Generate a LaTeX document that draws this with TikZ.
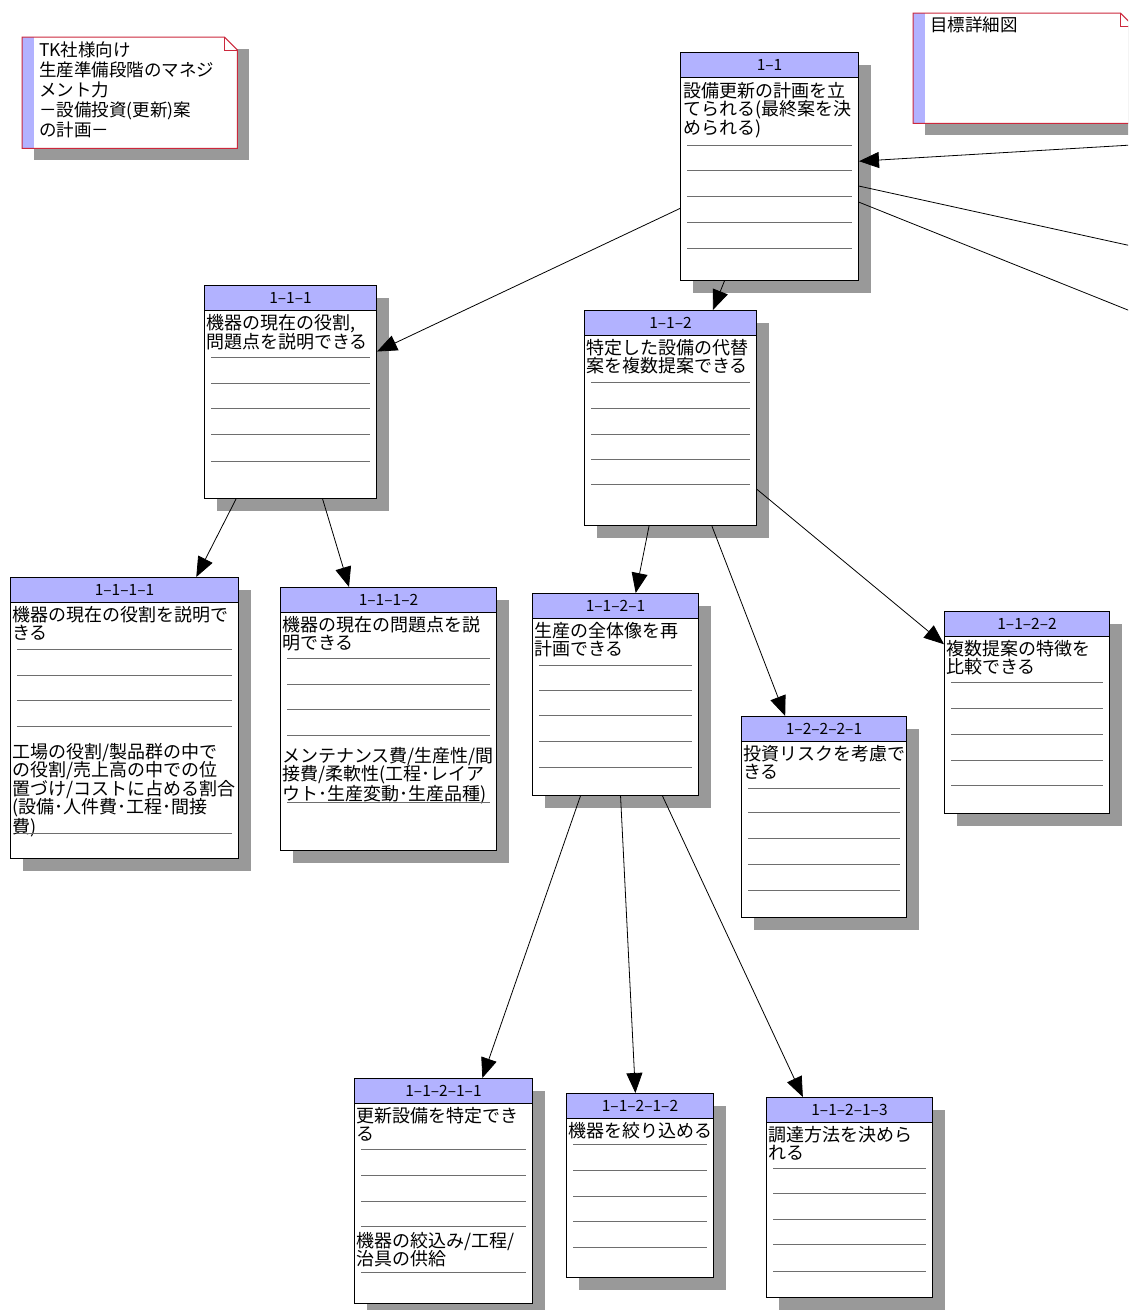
\documentclass[tikz,border=0pt]{standalone}
\usepackage{fontspec}
\setmainfont{Noto Sans CJK JP}
\usepackage{tikz}
\usetikzlibrary{arrows.meta,positioning,shadows,calc}
\definecolor{headblue}{RGB}{178,178,255}
\definecolor{notered}{RGB}{204,40,60}
\definecolor{rulegray}{RGB}{110,110,110}

\begin{document}
\begin{tikzpicture}[x=1pt, y=-1pt,
    card/.style={rectangle, draw, line width=1pt, fill=white, anchor=north west, inner sep=0pt,
      drop shadow={shadow xshift=12pt, shadow yshift=-12pt, fill=black!40, opacity=1}},
    head/.style={rectangle, draw, line width=1pt, fill=headblue, anchor=north west, minimum height=25pt, inner sep=0pt, font=\fontsize{15.5}{17}\selectfont},
    body/.style={anchor=north west, inner sep=0pt, align=left, font=\fontsize{18}{18.5}\selectfont},
    memo/.style={rectangle, fill=white, anchor=north west, inner sep=0pt,
      drop shadow={shadow xshift=12pt, shadow yshift=-12pt, fill=black!40, opacity=1}},
    memoline/.style={notered, line width=1pt},
    rule/.style={rulegray, line width=0.9pt},
    arrow/.style={-{Triangle[length=20pt, width=16pt]}, line width=0.8pt}]

    \path[use as bounding box, clip] (0,0) rectangle (1128,1310);

    % notes
    \node[memo, minimum width=215pt, minimum height=111pt] (memo1) at (22,37) {};
    \fill[headblue] (memo1.north west) rectangle ([xshift=12pt]memo1.south west);
    \draw[memoline] (memo1.north west) -- ([xshift=-13pt]memo1.north east) -- ([yshift=-13pt]memo1.north east) -- (memo1.south east) -- (memo1.south west) -- cycle;
    \draw[memoline] ([xshift=-13pt]memo1.north east) -- ([xshift=-13pt, yshift=-13pt]memo1.north east) -- ([yshift=-13pt]memo1.north east);
    \node[body, font=\fontsize{17.5}{20}\selectfont] (memo1t) at ([xshift=17pt, yshift=-5pt]memo1.north west) {TK社様向け\\生産準備段階のマネジ\\メント力\\－設備投資(更新)案\\の計画－};

    \node[memo, minimum width=220pt, minimum height=110pt] (memo2) at (913,13) {};
    \fill[headblue] (memo2.north west) rectangle ([xshift=12pt]memo2.south west);
    \draw[memoline] (memo2.north west) -- ([xshift=-13pt]memo2.north east) -- ([yshift=-13pt]memo2.north east) -- (memo2.south east) -- (memo2.south west) -- cycle;
    \draw[memoline] ([xshift=-13pt]memo2.north east) -- ([xshift=-13pt, yshift=-13pt]memo2.north east) -- ([yshift=-13pt]memo2.north east);
    \node[body, font=\fontsize{17.5}{20}\selectfont] (memo2t) at ([xshift=17pt, yshift=-4pt]memo2.north west) {目標詳細図};

    % 1-1
    \node[card, minimum width=178pt, minimum height=228pt] (c11) at (680,52) {};
    \node[head, minimum width=178pt] (c11h) at (c11.north west) {1--1};
    \node[body] (c11t) at ([xshift=3pt, yshift=-30pt]c11.north west) {設備更新の計画を立\\てられる(最終案を決\\められる)};
    \foreach \y in {93,118,144,170,196}
      \draw[rule] ([xshift=7pt, yshift=-\y pt]c11.north west) -- ([xshift=-7pt, yshift=-\y pt]c11.north east);

    % 1-1-1
    \node[card, minimum width=172pt, minimum height=213pt] (c111) at (204,285) {};
    \node[head, minimum width=172pt] (c111h) at (c111.north west) {1--1--1};
    \node[body] (c111t) at ([xshift=2pt, yshift=-29pt]c111.north west) {機器の現在の役割,\\問題点を説明できる};
    \foreach \y in {72,98,123,149,176}
      \draw[rule] ([xshift=7pt, yshift=-\y pt]c111.north west) -- ([xshift=-7pt, yshift=-\y pt]c111.north east);

    % 1-1-2
    \node[card, minimum width=172pt, minimum height=215pt] (c112) at (584,310) {};
    \node[head, minimum width=172pt] (c112h) at (c112.north west) {1--1--2};
    \node[body] (c112t) at ([xshift=2pt, yshift=-29pt]c112.north west) {特定した設備の代替\\案を複数提案できる};
    \foreach \y in {72,98,124,149,174}
      \draw[rule] ([xshift=7pt, yshift=-\y pt]c112.north west) -- ([xshift=-7pt, yshift=-\y pt]c112.north east);

    % 1-1-1-1
    \node[card, minimum width=228pt, minimum height=281pt] (c1111) at (10,577) {};
    \node[head, minimum width=228pt] (c1111h) at (c1111.north west) {1--1--1--1};
    \node[body] (c1111t) at ([xshift=2pt, yshift=-29pt]c1111.north west) {機器の現在の役割を説明で\\きる};
    \node[body] (c1111n) at ([xshift=2pt, yshift=-166pt]c1111.north west) {工場の役割/製品群の中で\\の役割/売上高の中での位\\置づけ/コストに占める割合\\(設備･人件費･工程･間接\\費)};
    \foreach \y in {72,98,123,149,256}
      \draw[rule] ([xshift=7pt, yshift=-\y pt]c1111.north west) -- ([xshift=-7pt, yshift=-\y pt]c1111.north east);

    % 1-1-1-2
    \node[card, minimum width=216pt, minimum height=263pt] (c1112) at (280,587) {};
    \node[head, minimum width=216pt] (c1112h) at (c1112.north west) {1--1--1--2};
    \node[body] (c1112t) at ([xshift=2pt, yshift=-29pt]c1112.north west) {機器の現在の問題点を説\\明できる};
    \node[body] (c1112n) at ([xshift=2pt, yshift=-160pt]c1112.north west) {メンテナンス費/生産性/間\\接費/柔軟性(工程･レイア\\ウト･生産変動･生産品種)};
    \foreach \y in {71,97,122,148,215}
      \draw[rule] ([xshift=7pt, yshift=-\y pt]c1112.north west) -- ([xshift=-7pt, yshift=-\y pt]c1112.north east);

    % 1-1-2-1
    \node[card, minimum width=166pt, minimum height=202pt] (c1121) at (532,593) {};
    \node[head, minimum width=166pt] (c1121h) at (c1121.north west) {1--1--2--1};
    \node[body] (c1121t) at ([xshift=2pt, yshift=-29pt]c1121.north west) {生産の全体像を再\\計画できる};
    \foreach \y in {72,97,122,148,174}
      \draw[rule] ([xshift=7pt, yshift=-\y pt]c1121.north west) -- ([xshift=-7pt, yshift=-\y pt]c1121.north east);

    % 1-2-2-2-1
    \node[card, minimum width=165pt, minimum height=201pt] (c12221) at (741,716) {};
    \node[head, minimum width=165pt] (c12221h) at (c12221.north west) {1--2--2--2--1};
    \node[body] (c12221t) at ([xshift=2pt, yshift=-29pt]c12221.north west) {投資リスクを考慮で\\きる};
    \foreach \y in {72,96,122,148,174}
      \draw[rule] ([xshift=7pt, yshift=-\y pt]c12221.north west) -- ([xshift=-7pt, yshift=-\y pt]c12221.north east);

    % 1-1-2-2
    \node[card, minimum width=165pt, minimum height=202pt] (c1122) at (944,611) {};
    \node[head, minimum width=165pt] (c1122h) at (c1122.north west) {1--1--2--2};
    \node[body] (c1122t) at ([xshift=2pt, yshift=-29pt]c1122.north west) {複数提案の特徴を\\比較できる};
    \foreach \y in {71,97,123,149,174}
      \draw[rule] ([xshift=7pt, yshift=-\y pt]c1122.north west) -- ([xshift=-7pt, yshift=-\y pt]c1122.north east);

    % 1-1-2-1-1
    \node[card, minimum width=178pt, minimum height=225pt] (c11211) at (354,1078) {};
    \node[head, minimum width=178pt] (c11211h) at (c11211.north west) {1--1--2--1--1};
    \node[body] (c11211t) at ([xshift=2pt, yshift=-29pt]c11211.north west) {更新設備を特定でき\\る};
    \node[body] (c11211n) at ([xshift=2pt, yshift=-154pt]c11211.north west) {機器の絞込み/工程/\\治具の供給};
    \foreach \y in {71,97,123,148,194}
      \draw[rule] ([xshift=7pt, yshift=-\y pt]c11211.north west) -- ([xshift=-7pt, yshift=-\y pt]c11211.north east);

    % 1-1-2-1-2
    \node[card, minimum width=147pt, minimum height=184pt] (c11212) at (566,1093) {};
    \node[head, minimum width=147pt] (c11212h) at (c11212.north west) {1--1--2--1--2};
    \node[body] (c11212t) at ([xshift=2pt, yshift=-29pt]c11212.north west) {機器を絞り込める};
    \foreach \y in {51,77,103,128,154}
      \draw[rule] ([xshift=7pt, yshift=-\y pt]c11212.north west) -- ([xshift=-7pt, yshift=-\y pt]c11212.north east);

    % 1-1-2-1-3
    \node[card, minimum width=166pt, minimum height=200pt] (c11213) at (766,1097) {};
    \node[head, minimum width=166pt] (c11213h) at (c11213.north west) {1--1--2--1--3};
    \node[body] (c11213t) at ([xshift=2pt, yshift=-29pt]c11213.north west) {調達方法を決めら\\れる};
    \foreach \y in {71,96,122,147,174}
      \draw[rule] ([xshift=7pt, yshift=-\y pt]c11213.north west) -- ([xshift=-7pt, yshift=-\y pt]c11213.north east);

    % off-page ends
    \coordinate (far1) at (1300,135);
    \coordinate (far2) at (1300,283);
    \coordinate (far3) at (1300,379);

    \draw[arrow] (far1) -- (c11);
    \draw[arrow] (c11) -- (far2);
    \draw[arrow] (c11) -- (far3);
    \draw[arrow] (c11) -- (c111);
    \draw[arrow] (c11) -- (c112);
    \draw[arrow] (c111) -- (c1111);
    \draw[arrow] (c111) -- (c1112);
    \draw[arrow] (c112) -- (c1121);
    \draw[arrow] (c112) -- (c12221);
    \draw[arrow] (c112) -- (c1122);
    \draw[arrow] (c1121) -- (c11211);
    \draw[arrow] (c1121) -- (c11212);
    \draw[arrow] (c1121) -- (c11213);
\end{tikzpicture}
\end{document}
